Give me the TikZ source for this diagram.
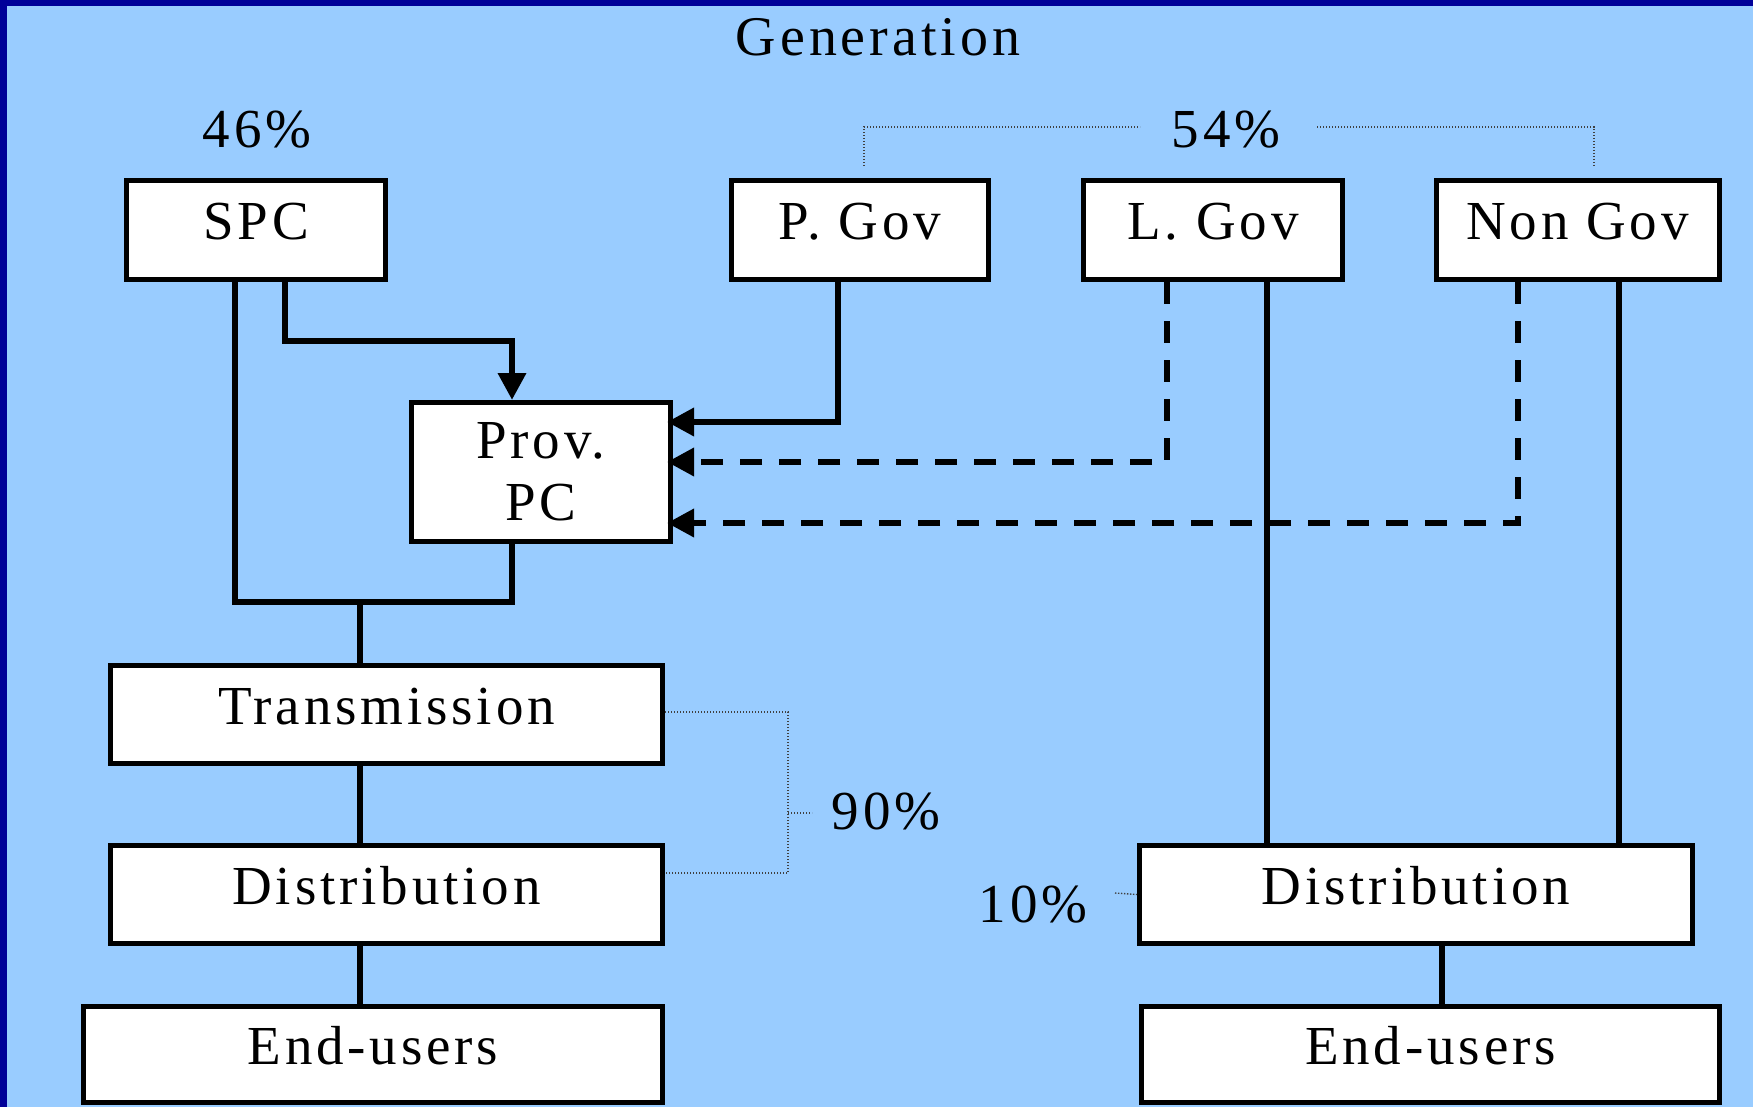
\documentclass[tikz,border=0pt]{standalone}
\usepackage{fontspec}
\setmainfont{Liberation Serif}[LetterSpace=7]
\usetikzlibrary{arrows.meta}
\definecolor{bgblue}{HTML}{99CCFF}
\definecolor{dkblue}{HTML}{000099}
\newcommand\bigfs{\fontsize{55pt}{62pt}\selectfont}
\newcommand\genfs{\fontsize{56pt}{62pt}\selectfont}
\begin{document}
\begin{tikzpicture}[x=1pt,y=-1pt,
  boxbase/.style={draw=black, line width=5pt, fill=white, inner sep=0pt, font=\bigfs},
  box/.style={boxbase, text height=36pt, text depth=16pt},
  conn/.style={line width=6.5pt, draw=black},
  dashconn/.style={conn, dash pattern=on 22pt off 17pt},
  arr/.style={-{Triangle[length=27pt,width=27pt]}},
  dotline/.style={line width=1.4pt, draw=black!75, dash pattern=on 1.4pt off 1.6pt},
  lbl/.style={inner sep=0pt, anchor=base, font=\bigfs}]
\useasboundingbox (0,0) rectangle (1753,1107);
\fill[bgblue] (0,0) rectangle (1753,1107);
\fill[dkblue] (0,0) rectangle (7,1107);
\fill[dkblue] (0,0) rectangle (1753,6);

% labels
\node[lbl, font=\genfs] (gen) at (878,56) {Generation};
\node[lbl] (p46) at (257,148) {46\%};
\node[lbl] (p54) at (1226,148) {54\%};
\node[lbl] (p90) at (886,829) {90\%};
\node[lbl] (p10) at (1033,922) {10\%};

% x positions of connectors
\coordinate (xs1) at (235,0);
\coordinate (xs2) at (285,0);
\coordinate (xp)  at (512,0);
\coordinate (xpg) at (838,0);
\coordinate (xld) at (1167,0);
\coordinate (xls) at (1267,0);
\coordinate (xnd) at (1518,0);
\coordinate (xns) at (1619,0);
\coordinate (xj)  at (360,0);
\coordinate (xr)  at (1442,0);
\coordinate (jn) at (360,602);
\coordinate (b1) at (512,341);
\coordinate (a1) at (838,422);
\coordinate (a2) at (1167,462);
\coordinate (a3) at (1518,523);

% boxes
\node[box, minimum width=259pt, minimum height=99pt] (spc) at (256,230) {SPC};
\node[box, minimum width=257pt, minimum height=99pt] (pgov) at (860,230) {P. Gov};
\node[box, minimum width=259pt, minimum height=99pt] (lgov) at (1213,230) {L. Gov};
\node[box, minimum width=283pt, minimum height=99pt] (ngov) at (1577.5,230) {Non Gov};
\node[boxbase, align=center, minimum width=259pt, minimum height=139pt] (prov) at (541,472) {Prov.\\PC};
\node[box, minimum width=552pt, minimum height=98pt] (trans) at (386.5,714.5) {Transmission};
\node[box, minimum width=552pt, minimum height=98pt] (dist1) at (386.5,894.5) {Distribution};
\node[box, minimum width=579pt, minimum height=96pt] (end1) at (373,1054.5) {End-users};
\node[box, minimum width=553pt, minimum height=98pt] (dist2) at (1416,894.5) {Distribution};
\node[box, minimum width=578pt, minimum height=96pt] (end2) at (1430.5,1054.5) {End-users};

% connectors
\draw[conn] (spc.south -| xs1) |- (jn) -| (prov.south -| xp);
\draw[conn] (jn) -- (trans.north -| jn);
\draw[conn,arr] (spc.south -| xs2) |- (b1) -- (prov.north -| b1);
\draw[conn,arr,shorten >=-6pt] (pgov.south -| xpg) -- (a1) -- (prov.east |- a1);
\draw[dashconn,arr,shorten >=-6pt] (lgov.south -| xld) -- (a2) -- (prov.east |- a2);
\draw[dashconn,arr,shorten >=-6pt] (ngov.south -| xnd) -- (a3) -- (prov.east |- a3);
\draw[conn] (lgov.south -| xls) -- (dist2.north -| xls);
\draw[conn] (ngov.south -| xns) -- (dist2.north -| xns);
\draw[conn] (trans.south -| xj) -- (dist1.north -| xj);
\draw[conn] (dist1.south -| xj) -- (end1.north -| xj);
\draw[conn] (dist2.south -| xr) -- (end2.north -| xr);

% dotted brackets
\draw[dotline] (864,166) -- (864,127) -- (1140,127);
\draw[dotline] (1317,127) -- (1594,127) -- (1594,166);
\draw[dotline] (665,712) -- (788,712) -- (788,873) -- (665,873);
\draw[dotline] (788,813) -- (812,813);
\draw[dotline] (1115,893) -- (dist2.west);
\end{tikzpicture}
\end{document}
